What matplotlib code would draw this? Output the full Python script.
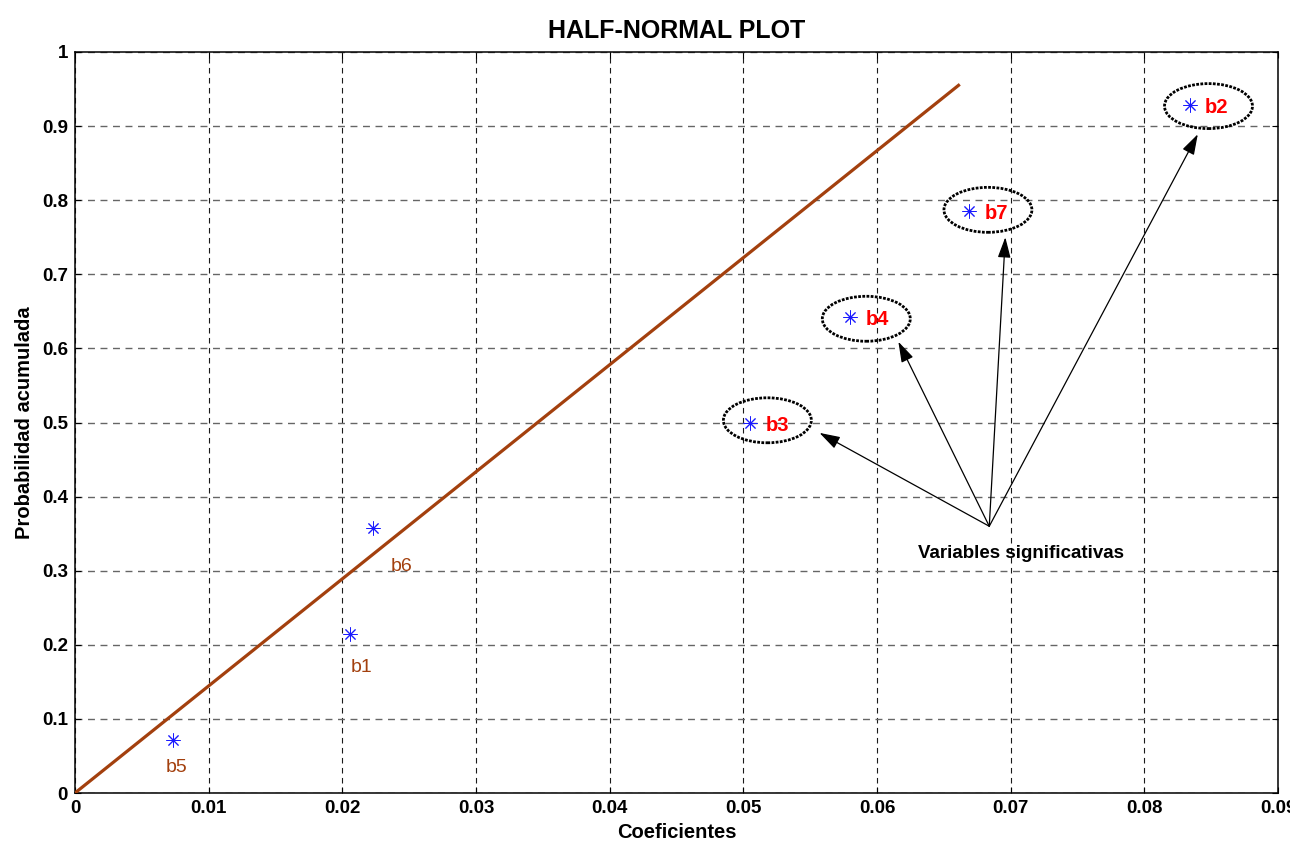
import numpy as np
import matplotlib
matplotlib.use("Agg")
import matplotlib.pyplot as plt
from matplotlib.patches import Ellipse

plt.rcParams['font.family'] = ['Liberation Sans', 'DejaVu Sans']

# half-normal points (coefficient, cumulative probability)
coef_names = ['b5', 'b1', 'b6', 'b3', 'b4', 'b7', 'b2']
coef_vals = [0.00733, 0.0206, 0.0223, 0.0505, 0.0580, 0.0669, 0.0834]
prob_vals = [0.0714, 0.2143, 0.3571, 0.5, 0.6429, 0.7857, 0.9286]

# reference line
line_x = [0.0, 0.0661]
line_y = [0.0, 0.955]

# non-significant labels (brown), placed under the points
minor_names = ['b5', 'b1', 'b6']
minor_lab_x = [0.0068, 0.0206, 0.0236]
minor_lab_y = [0.034, 0.170, 0.306]

# significant ones: ellipse centres and arrow tips
sig_names = ['b3', 'b4', 'b7', 'b2']
ell_x = [0.0518, 0.0592, 0.0683, 0.0848]
ell_y = [0.503, 0.640, 0.787, 0.927]
tip_x = [0.0557, 0.0616, 0.0696, 0.0840]
tip_y = [0.486, 0.609, 0.750, 0.889]
arrow_origin = (0.0684, 0.360)
note_text = 'Variables significativas'

xticks = np.arange(0, 0.091, 0.01)
yticks = np.arange(0, 1.01, 0.1)

brown = '#A3400E'

fig = plt.figure(figsize=(12.9, 8.44), dpi=100)
ax = fig.add_axes([0.0581, 0.0604, 0.9326, 0.878])

ax.plot(line_x, line_y, color=brown, lw=2.3, zorder=3)
ax.plot(coef_vals, prob_vals, ls='none', marker=(8, 2, 0), ms=10,
        mew=0.7, color='#1a1aff', zorder=4)

for n, x, y in zip(minor_names, minor_lab_x, minor_lab_y):
    ax.text(x, y, n, color=brown, fontsize=14, ha='left', va='center')

pts = dict(zip(coef_names, zip(coef_vals, prob_vals)))
for n, ex, ey, tx, ty in zip(sig_names, ell_x, ell_y, tip_x, tip_y):
    px, py = pts[n]
    ax.annotate(n, (px, py), xytext=(11, -2), textcoords='offset points',
                color='red', fontsize=14.5, fontweight='bold', ha='left', va='center')
    ax.add_patch(Ellipse((ex, ey), 0.00658, 0.0607, fill=False, ec='black',
                         lw=2.0, ls=(0, (1, 0.5)), zorder=5))
    ax.annotate('', xy=(tx, ty), xytext=arrow_origin,
                arrowprops=dict(arrowstyle='-|>,head_length=0.7,head_width=0.22',
                                lw=0.9, color='black', mutation_scale=18,
                                shrinkA=0, shrinkB=0))

ax.text(0.0631, 0.323, note_text, fontsize=13.5, fontweight='bold',
        ha='left', va='center')

ax.set_xlim(0, 0.09)
ax.set_ylim(0, 1)
ax.set_xticks(xticks)
ax.set_yticks(yticks)
ax.set_xticklabels(['0'] + ['%.2f' % v for v in xticks[1:]])
ax.set_yticklabels(['0'] + ['%.1f' % v for v in yticks[1:-1]] + ['1'])
ax.tick_params(direction='in', top=True, right=True, length=4,
               labelsize=13.5, pad=5)
for lab in ax.get_xticklabels() + ax.get_yticklabels():
    lab.set_fontweight('bold')
for sp in ax.spines.values():
    sp.set_linewidth(1.1)

ax.xaxis.grid(True, color='0.1', ls=(0, (5, 4)), lw=0.8)
ax.yaxis.grid(True, color='0.4', ls=(0, (5, 4)), lw=1.0)
ax.set_axisbelow(True)

ax.set_title('HALF-NORMAL PLOT', fontsize=18, fontweight='bold', pad=10)
ax.set_xlabel('Coeficientes', fontsize=14.5, fontweight='bold', labelpad=4)
ax.set_ylabel('Probabilidad acumulada', fontsize=14.5, fontweight='bold', labelpad=6)

fig.savefig('out.png', dpi=100)
